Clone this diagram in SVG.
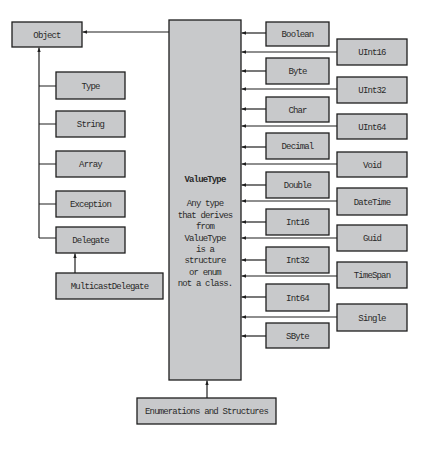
<svg xmlns="http://www.w3.org/2000/svg" width="436" height="451" viewBox="0 0 436 451">
<style>
.b{fill:#c8c9cb;stroke:#1e1e1e;stroke-width:1.3}
.t{font-family:"Liberation Mono","DejaVu Sans Mono",monospace;font-size:9px;letter-spacing:-0.85px;fill:#2a2a2a;text-anchor:middle}
.c{stroke:#1e1e1e;stroke-width:1.2;fill:none}
.a{stroke:#1e1e1e;stroke-width:1.2;fill:none;marker-end:url(#ah)}
</style>
<defs>
<marker id="ah" viewBox="0 0 6 6" refX="6" refY="3" markerWidth="4" markerHeight="4" orient="auto" markerUnits="strokeWidth">
<path d="M0,0.8 L6,3 L0,5.2 z" fill="#1e1e1e"/>
</marker>
</defs>
<rect width="436" height="451" fill="#fff"/>
<g id="connectors">
<path class="a" d="M169,32 H82.5"/>
<path class="a" d="M39,238 V47.5"/>
<path class="c" d="M39,86 H56 M39,124 H56 M39,164 H56 M39,204 H56 M39,238 H56"/>
<path class="a" d="M75,273 V253.5"/>
<path class="a" d="M207,398 V380.5"/>
<path class="a" d="M266,33 H241.5"/>
<path class="a" d="M266,71 H241.5"/>
<path class="a" d="M266,109 H241.5"/>
<path class="a" d="M266,147 H241.5"/>
<path class="a" d="M266,185 H241.5"/>
<path class="a" d="M266,222 H241.5"/>
<path class="a" d="M266,260 H241.5"/>
<path class="a" d="M266,297 H241.5"/>
<path class="a" d="M266,336 H241.5"/>
<path class="a" d="M337,52 H241.5"/>
<path class="a" d="M337,89 H241.5"/>
<path class="a" d="M337,126 H241.5"/>
<path class="a" d="M337,164 H241.5"/>
<path class="a" d="M337,201 H241.5"/>
<path class="a" d="M337,238 H241.5"/>
<path class="a" d="M337,276 H241.5"/>
<path class="a" d="M337,317 H241.5"/>
</g>
<g id="object"><rect class="b" x="12" y="22" width="70" height="25"/><text class="t" x="47" y="37.5">Object</text></g>
<g id="type"><rect class="b" x="56" y="72" width="69" height="27"/><text class="t" x="90.5" y="88.5">Type</text></g>
<g id="string"><rect class="b" x="56" y="111" width="69" height="26"/><text class="t" x="90.5" y="127">String</text></g>
<g id="array"><rect class="b" x="56" y="151" width="69" height="26"/><text class="t" x="90.5" y="167">Array</text></g>
<g id="exception"><rect class="b" x="56" y="191" width="69" height="26"/><text class="t" x="90.5" y="207">Exception</text></g>
<g id="delegate"><rect class="b" x="56" y="227" width="69" height="26"/><text class="t" x="90.5" y="243">Delegate</text></g>
<g id="multicastdelegate"><rect class="b" x="56" y="273" width="107" height="26"/><text class="t" x="109.5" y="289">MulticastDelegate</text></g>
<g id="valuetype"><rect class="b" x="169" y="20" width="72" height="360"/>
<text class="t" x="205" y="182" font-weight="bold">ValueType</text>
<text class="t" x="205" y="206">Any type</text>
<text class="t" x="205" y="217.5">that derives</text>
<text class="t" x="205" y="229">from</text>
<text class="t" x="205" y="240.5">ValueType</text>
<text class="t" x="205" y="252">is a</text>
<text class="t" x="205" y="263">structure</text>
<text class="t" x="205" y="274.5">or enum</text>
<text class="t" x="205" y="286">not a class.</text>
</g>
<g id="enumerations"><rect class="b" x="137" y="398" width="139" height="26"/><text class="t" x="206.5" y="414">Enumerations and Structures</text></g>
<g id="boolean"><rect class="b" x="266" y="22" width="63" height="24"/><text class="t" x="297.5" y="37">Boolean</text></g>
<g id="byte"><rect class="b" x="266" y="58" width="63" height="26"/><text class="t" x="297.5" y="74">Byte</text></g>
<g id="char"><rect class="b" x="266" y="97" width="63" height="25"/><text class="t" x="297.5" y="112.5">Char</text></g>
<g id="decimal"><rect class="b" x="266" y="133" width="63" height="26"/><text class="t" x="297.5" y="149">Decimal</text></g>
<g id="double"><rect class="b" x="266" y="172" width="63" height="26"/><text class="t" x="297.5" y="188">Double</text></g>
<g id="int16"><rect class="b" x="266" y="209" width="63" height="26"/><text class="t" x="297.5" y="225">Int16</text></g>
<g id="int32"><rect class="b" x="266" y="247" width="63" height="26"/><text class="t" x="297.5" y="263">Int32</text></g>
<g id="int64"><rect class="b" x="266" y="284" width="63" height="27"/><text class="t" x="297.5" y="300.5">Int64</text></g>
<g id="sbyte"><rect class="b" x="266" y="323" width="63" height="25"/><text class="t" x="297.5" y="338.5">SByte</text></g>
<g id="uint16"><rect class="b" x="337" y="39" width="70" height="26"/><text class="t" x="372" y="55">UInt16</text></g>
<g id="uint32"><rect class="b" x="337" y="77" width="70" height="26"/><text class="t" x="372" y="93">UInt32</text></g>
<g id="uint64"><rect class="b" x="337" y="114" width="70" height="25"/><text class="t" x="372" y="129.5">UInt64</text></g>
<g id="void"><rect class="b" x="337" y="152" width="70" height="25"/><text class="t" x="372" y="167.5">Void</text></g>
<g id="datetime"><rect class="b" x="337" y="188" width="70" height="27"/><text class="t" x="372" y="204.5">DateTime</text></g>
<g id="guid"><rect class="b" x="337" y="225" width="70" height="26"/><text class="t" x="372" y="241">Guid</text></g>
<g id="timespan"><rect class="b" x="337" y="262" width="70" height="26"/><text class="t" x="372" y="278">TimeSpan</text></g>
<g id="single"><rect class="b" x="337" y="304" width="70" height="27"/><text class="t" x="372" y="320.5">Single</text></g>
</svg>
